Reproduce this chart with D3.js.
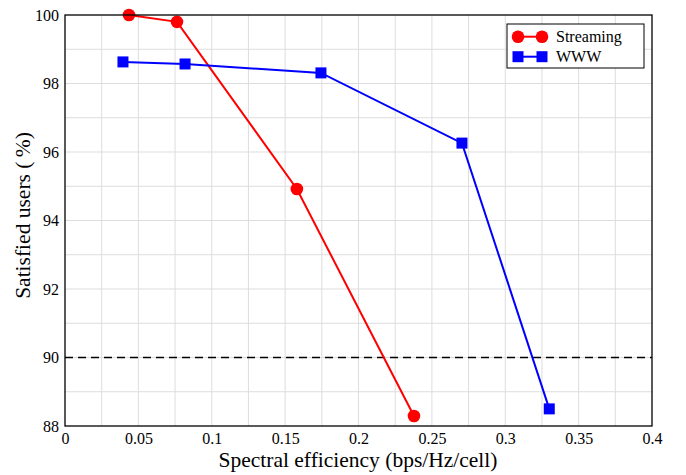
<!DOCTYPE html>
<html>
<head>
<meta charset="utf-8">
<script src="https://cdn.jsdelivr.net/npm/d3@7"></script>
<style>
  body { margin: 0; background: #fff; }
  svg text { font-family: "Liberation Serif", "Times New Roman", Times, serif; }
</style>
</head>
<body>
<svg id="chart" width="686" height="475"></svg>
<script>
// Satisfied users vs. spectral efficiency
const streamingX = [0.0436, 0.0763, 0.158, 0.2378];
const streamingY = [100, 99.8, 94.92, 88.29];
const wwwX = [0.0395, 0.0818, 0.1744, 0.2705, 0.3300];
const wwwY = [98.63, 98.57, 98.31, 96.26, 88.50];
const xTicks = [0, 0.05, 0.1, 0.15, 0.2, 0.25, 0.3, 0.35, 0.4];
const yTicks = [88, 90, 92, 94, 96, 98, 100];
const threshold = 90;

const width = 686, height = 475;
const margin = { top: 15, right: 34, bottom: 49, left: 65 };
const innerWidth  = width  - margin.left - margin.right;
const innerHeight = height - margin.top  - margin.bottom;
const serif = "'Liberation Serif', 'Times New Roman', Times, serif";

const svg = d3.select("#chart");
const g = svg.append("g")
  .attr("transform", `translate(${margin.left},${margin.top})`);

const x = d3.scaleLinear().domain([0, 0.4]).range([0, innerWidth]);
const y = d3.scaleLinear().domain([88, 100]).range([innerHeight, 0]);

// grid (minor steps)
g.append("g").selectAll("line")
  .data(d3.range(1, 16).map(i => i * 0.025))
  .join("line")
  .attr("x1", d => x(d)).attr("x2", d => x(d))
  .attr("y1", 0).attr("y2", innerHeight)
  .attr("stroke", "#dddddd").attr("stroke-width", 1);
g.append("g").selectAll("line")
  .data(d3.range(89, 100))
  .join("line")
  .attr("x1", 0).attr("x2", innerWidth)
  .attr("y1", d => y(d)).attr("y2", d => y(d))
  .attr("stroke", "#dddddd").attr("stroke-width", 1);

// axes
const fmt = d => d === 0 ? "0" : String(+d.toFixed(2));
const xAxisG = g.append("g")
  .attr("transform", `translate(0,${innerHeight})`)
  .call(d3.axisBottom(x).tickValues(xTicks).tickFormat(fmt).tickSize(0).tickPadding(7));
const yAxisG = g.append("g")
  .call(d3.axisLeft(y).tickValues(yTicks).tickSize(0).tickPadding(6));
[xAxisG, yAxisG].forEach(a => {
  a.attr("font-family", serif).attr("font-size", 16);
  a.select(".domain").remove();
  a.selectAll("text").attr("fill", "#000").style("font-family", serif);
});

// threshold line
g.append("line")
  .attr("x1", 0).attr("x2", innerWidth)
  .attr("y1", y(threshold)).attr("y2", y(threshold))
  .attr("stroke", "#000").attr("stroke-width", 1.7)
  .attr("stroke-dasharray", "8,5");

// series
const streaming = streamingX.map((v, i) => [v, streamingY[i]]);
const www = wwwX.map((v, i) => [v, wwwY[i]]);
const line = d3.line().x(d => x(d[0])).y(d => y(d[1]));

g.append("path").datum(streaming).attr("d", line)
  .attr("fill", "none").attr("stroke", "#ff0000").attr("stroke-width", 2);
g.append("path").datum(www).attr("d", line)
  .attr("fill", "none").attr("stroke", "#0000ff").attr("stroke-width", 2);

g.selectAll("circle.s").data(streaming).join("circle")
  .attr("class", "s")
  .attr("cx", d => x(d[0])).attr("cy", d => y(d[1])).attr("r", 6.3)
  .attr("fill", "#ff0000");
g.selectAll("rect.w").data(www).join("rect")
  .attr("class", "w")
  .attr("x", d => x(d[0]) - 5.5).attr("y", d => y(d[1]) - 5.5)
  .attr("width", 11).attr("height", 11)
  .attr("fill", "#0000ff");

// frame
g.append("rect")
  .attr("width", innerWidth).attr("height", innerHeight)
  .attr("fill", "none").attr("stroke", "#000").attr("stroke-width", 1.3);

// axis labels
svg.append("text")
  .attr("x", 358).attr("y", 467)
  .attr("text-anchor", "middle").attr("font-size", 21.5)
  .style("font-family", serif)
  .text("Spectral efficiency (bps/Hz/cell)");
svg.append("text")
  .attr("transform", `translate(30,215.5) rotate(-90)`)
  .attr("text-anchor", "middle").attr("font-size", 21.5)
  .style("font-family", serif)
  .text("Satisfied users (\u2009%)");

// legend
const leg = svg.append("g").attr("transform", "translate(507,24)");
leg.append("rect").attr("width", 137).attr("height", 44)
  .attr("fill", "#fff").attr("stroke", "#000").attr("stroke-width", 1);
const items = [
  { name: "Streaming", color: "#ff0000", shape: "circle" },
  { name: "WWW", color: "#0000ff", shape: "square" }
];
items.forEach((it, i) => {
  const cy = 12.7 + i * 20;
  const row = leg.append("g");
  row.append("line").attr("x1", 11).attr("x2", 35).attr("y1", cy).attr("y2", cy)
    .attr("stroke", it.color).attr("stroke-width", 2);
  [11, 35].forEach(cx => {
    if (it.shape === "circle") {
      row.append("circle").attr("cx", cx).attr("cy", cy).attr("r", 6.3).attr("fill", it.color);
    } else {
      row.append("rect").attr("x", cx - 5.5).attr("y", cy - 5.5)
        .attr("width", 11).attr("height", 11).attr("fill", it.color);
    }
  });
  row.append("text").attr("x", 49).attr("y", cy + 5.5)
    .attr("font-size", 16).style("font-family", serif).text(it.name);
});
</script>
</body>
</html>
